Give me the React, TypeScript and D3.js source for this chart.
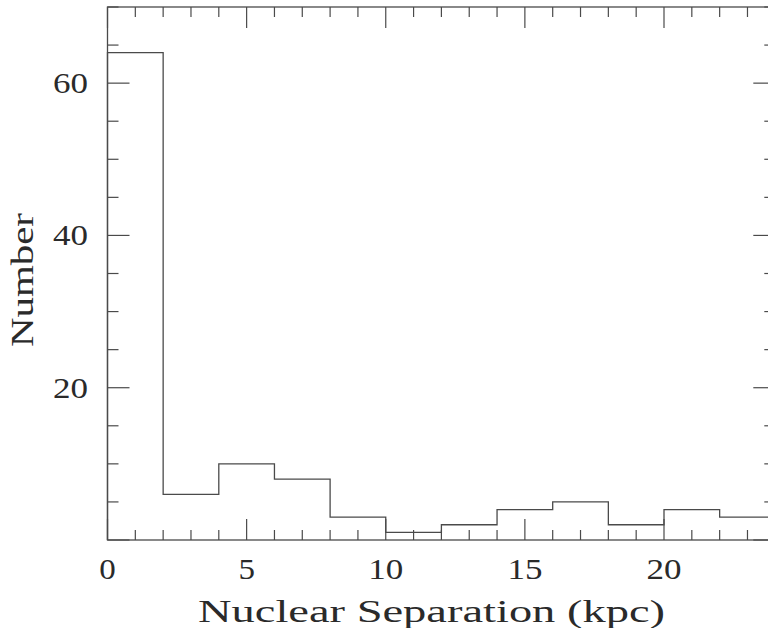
import React from "react";
import * as d3 from "d3";

const binEdges = [0, 2, 4, 6, 8, 10, 12, 14, 16, 18, 20, 22, 24];
const counts = [64, 6, 10, 8, 3, 1, 2, 4, 5, 2, 4, 3];
const xMajorTicks = [0, 5, 10, 15, 20];
const yMajorTicks = [20, 40, 60];
const xLabel = "Nuclear Separation (kpc)";
const yLabel = "Number";

const W = 768;
const H = 628;
const FONT = "'Liberation Serif', 'DejaVu Serif', serif";
const STROKE = "#4a4a4a";

export default function App() {
  const x = d3.scaleLinear().domain([0, 24]).range([107.5, 775.3]);
  const y = d3.scaleLinear().domain([0, 70]).range([540, 7]);

  const xMinor = d3.range(0, 25, 1).filter((v) => v % 5 !== 0);
  const yMinor = d3.range(0, 71, 5).filter((v) => v % 20 !== 0);
  const xMaj = d3.range(0, 25, 5);
  const yMaj = d3.range(0, 71, 20);

  const pts: [number, number][] = [[x(binEdges[0]), y(0)]];
  counts.forEach((c, i) => {
    pts.push([x(binEdges[i]), y(c)]);
    pts.push([x(binEdges[i + 1]), y(c)]);
  });
  pts.push([x(binEdges[binEdges.length - 1]), y(0)]);
  const line = d3.line();
  const hist = line(pts) || "";

  const [x0, x1] = x.range();
  const [y0, y1] = y.range();
  const numLen = (v: number) => (String(v).length === 1 ? 16.5 : 35);

  return (
    <svg
      width={W}
      height={H}
      style={{ position: "absolute", left: 0, top: 0, background: "#fff" }}
    >
      <rect x={0} y={0} width={W} height={H} fill="#fff" />
      {/* frame */}
      <rect
        x={x0}
        y={y1}
        width={x1 - x0}
        height={y0 - y1}
        fill="none"
        stroke={STROKE}
        strokeWidth={1.3}
      />
      {/* x ticks bottom and top */}
      {xMinor.map((v) => (
        <g key={"xm" + v}>
          <line x1={x(v)} x2={x(v)} y1={y0} y2={y0 - 10} stroke={STROKE} strokeWidth={1.2} />
          <line x1={x(v)} x2={x(v)} y1={y1} y2={y1 + 10} stroke={STROKE} strokeWidth={1.2} />
        </g>
      ))}
      {xMaj.map((v) => (
        <g key={"xM" + v}>
          <line x1={x(v)} x2={x(v)} y1={y0} y2={y0 - 21} stroke={STROKE} strokeWidth={1.2} />
          <line x1={x(v)} x2={x(v)} y1={y1} y2={y1 + 21} stroke={STROKE} strokeWidth={1.2} />
        </g>
      ))}
      {/* y ticks left and right */}
      {yMinor.map((v) => (
        <g key={"ym" + v}>
          <line x1={x0} x2={x0 + 11} y1={y(v)} y2={y(v)} stroke={STROKE} strokeWidth={1.2} />
          <line x1={x1} x2={x1 - 11} y1={y(v)} y2={y(v)} stroke={STROKE} strokeWidth={1.2} />
        </g>
      ))}
      {yMaj.map((v) => (
        <g key={"yM" + v}>
          <line x1={x0} x2={x0 + 22} y1={y(v)} y2={y(v)} stroke={STROKE} strokeWidth={1.2} />
          <line x1={x1} x2={x1 - 22} y1={y(v)} y2={y(v)} stroke={STROKE} strokeWidth={1.2} />
        </g>
      ))}
      {/* histogram */}
      <path d={hist} fill="none" stroke={STROKE} strokeWidth={1.3} />
      {/* tick labels */}
      {xMajorTicks.map((v) => (
        <text
          key={"xl" + v}
          x={x(v) - numLen(v) / 2}
          y={579}
          fontFamily={FONT}
          fontSize={30}
          fill="#2a2a2a"
          textLength={numLen(v)}
          lengthAdjust="spacingAndGlyphs"
        >
          {v}
        </text>
      ))}
      {yMajorTicks.map((v) => (
        <text
          key={"yl" + v}
          x={88 - numLen(v)}
          y={y(v) + 10}
          fontFamily={FONT}
          fontSize={30}
          fill="#2a2a2a"
          textLength={numLen(v)}
          lengthAdjust="spacingAndGlyphs"
        >
          {v}
        </text>
      ))}
      {/* axis labels */}
      <text
        x={198}
        y={622}
        fontFamily={FONT}
        fontSize={31}
        fill="#2a2a2a"
        textLength={467}
        lengthAdjust="spacingAndGlyphs"
      >
        {xLabel}
      </text>
      <text
        transform={`translate(33, ${347}) rotate(-90)`}
        x={0}
        y={0}
        fontFamily={FONT}
        fontSize={31}
        fill="#2a2a2a"
        textLength={134}
        lengthAdjust="spacingAndGlyphs"
      >
        {yLabel}
      </text>
    </svg>
  );
}
